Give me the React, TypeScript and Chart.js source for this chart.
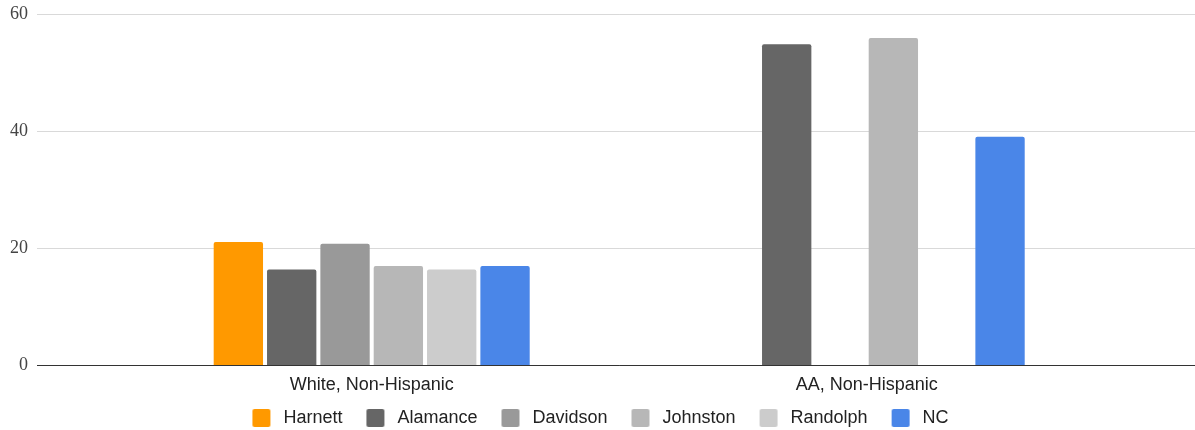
import React, { useEffect, useRef } from "react";
import { Chart, registerables } from "chart.js";

Chart.register(...registerables);

const categories = ["White, Non-Hispanic", "AA, Non-Hispanic"];
const seriesNames = ["Harnett", "Alamance", "Davidson", "Johnston", "Randolph", "NC"];
const harnett = [21.1, null];
const alamance = [16.4, 54.9];
const davidson = [20.8, null];
const johnston = [17.0, 56.0];
const randolph = [16.4, null];
const nc = [17.0, 39.1];
const yTicks = [0, 20, 40, 60];

const colors = ["#ff9900", "#666666", "#999999", "#b7b7b7", "#cccccc", "#4a86e8"];
const SANS = "'Liberation Sans', Arial, sans-serif";
const SERIF = "'Liberation Serif', 'Times New Roman', serif";

function makeMarker(color: string) {
  const c = document.createElement("canvas");
  c.width = 36;
  c.height = 18;
  const ctx = c.getContext("2d")!;
  ctx.fillStyle = color;
  ctx.beginPath();
  (ctx as any).roundRect(14, 0, 18, 18, 2);
  ctx.fill();
  return c;
}

const gridColor = (ctx: any) => (ctx.tick && ctx.tick.value === 0 ? "#333333" : "#d9d9d9");

export default function App() {
  const ref = useRef<HTMLCanvasElement | null>(null);

  useEffect(() => {
    document.body.style.margin = "0";
    const values = [harnett, alamance, davidson, johnston, randolph, nc];
    const markers = colors.map(makeMarker);
    const chart = new Chart(ref.current!, {
      type: "bar",
      data: {
        labels: categories,
        datasets: seriesNames.map((name, i) => ({
          label: name,
          data: values[i],
          backgroundColor: colors[i],
          borderRadius: 2,
          categoryPercentage: 0.6465,
          barPercentage: 0.925,
          yAxisID: "y",
        })),
      },
      options: {
        animation: false,
        responsive: false,
        maintainAspectRatio: false,
        layout: { padding: { top: 14.5, bottom: -7, left: 0, right: 8 } },
        plugins: {
          tooltip: { enabled: false },
          legend: {
            position: "bottom",
            labels: {
              usePointStyle: true,
              pointStyleWidth: 36,
              boxHeight: 18,
              padding: 10,
              color: "#222222",
              font: { family: SANS, size: 18 },
              generateLabels: (ch: any) => {
                const items = (Chart.defaults.plugins.legend.labels as any).generateLabels(ch);
                return items.map((it: any, i: number) => ({ ...it, pointStyle: markers[i] }));
              },
            },
          },
        },
        scales: {
          x: {
            grid: { display: false, drawTicks: false },
            border: { display: false },
            afterFit: (s: any) => {
              s.height = 33.5;
            },
            ticks: {
              autoSkip: false,
              maxRotation: 0,
              padding: 9,
              color: "#222222",
              font: { family: SANS, size: 18 },
            },
          },
          y: {
            position: "left",
            min: 0,
            max: 60,
            afterBuildTicks: (s: any) => {
              s.ticks = yTicks.map((v) => ({ value: v }));
            },
            afterFit: (s: any) => {
              s.width = 124.2;
              s.paddingTop = 0;
              s.paddingBottom = 0;
            },
            border: { display: false },
            grid: {
              color: gridColor,
              lineWidth: 1,
              drawTicks: true,
              tickLength: 87.2,
            },
            ticks: {
              padding: 9,
              color: "#444444",
              font: { family: SERIF, size: 18 },
            },
          },
          yR: {
            position: "right",
            min: 0,
            max: 60,
            afterBuildTicks: (s: any) => {
              s.ticks = yTicks.map((v) => ({ value: v }));
            },
            afterFit: (s: any) => {
              s.width = 72.8;
              s.paddingTop = 0;
              s.paddingBottom = 0;
            },
            border: { display: false },
            grid: {
              color: gridColor,
              lineWidth: 1,
              drawOnChartArea: false,
              drawTicks: true,
              tickLength: 80.8,
            },
            ticks: { display: false },
          },
        },
      },
    } as any);
    return () => chart.destroy();
  }, []);

  return (
    <div style={{ width: 1195, height: 430 }}>
      <canvas ref={ref} width={1195} height={430} style={{ display: "block" }} />
    </div>
  );
}
